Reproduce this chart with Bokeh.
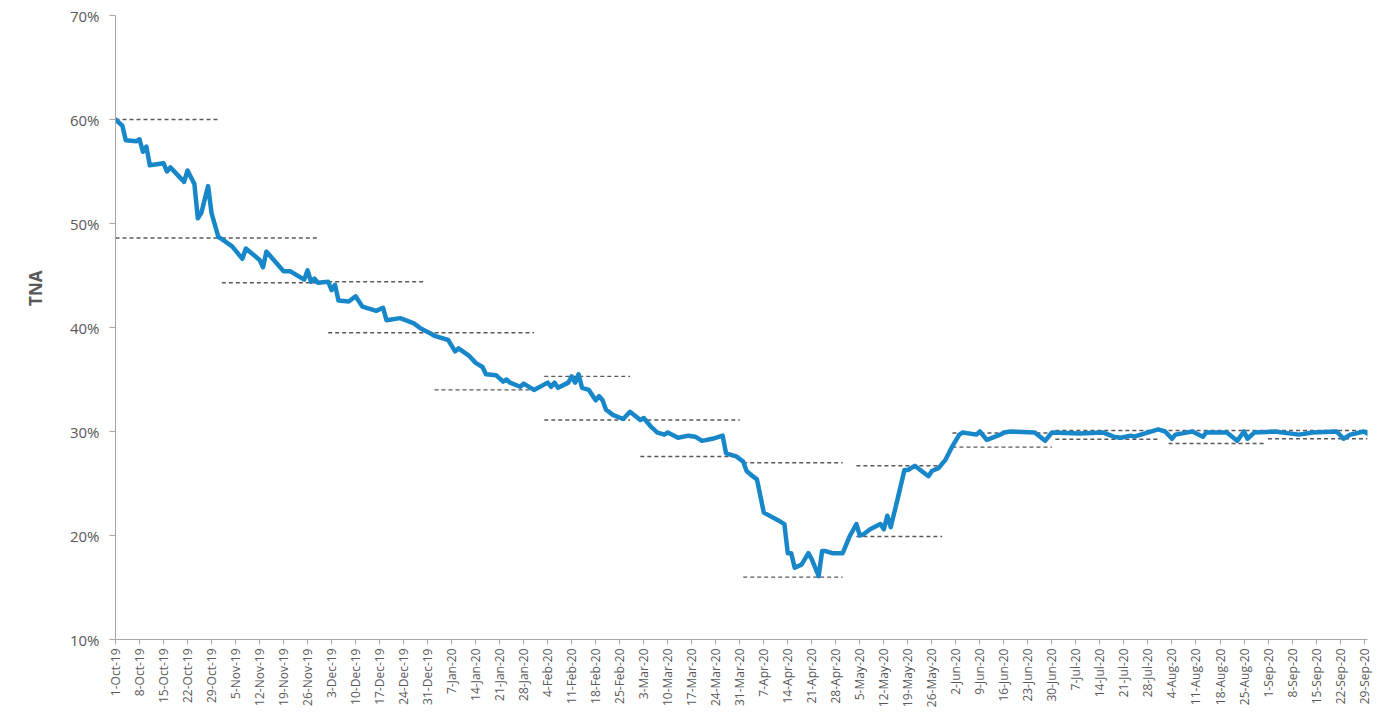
import math
import pandas as pd
from bokeh.plotting import figure
from bokeh.models import Range1d, FixedTicker, PrintfTickFormatter, Title
from bokeh.embed import file_html
from bokeh.resources import INLINE

# ---------------- data ----------------
dates = [
    "2019-10-01", "2019-10-03", "2019-10-04", "2019-10-07", "2019-10-08", "2019-10-09", "2019-10-10",
    "2019-10-11", "2019-10-15", "2019-10-16", "2019-10-17", "2019-10-21", "2019-10-22", "2019-10-24",
    "2019-10-25", "2019-10-26", "2019-10-28", "2019-10-29", "2019-10-31",
    "2019-11-01", "2019-11-04", "2019-11-07", "2019-11-08", "2019-11-12", "2019-11-13", "2019-11-14",
    "2019-11-19", "2019-11-21", "2019-11-25", "2019-11-26", "2019-11-27", "2019-11-28", "2019-11-29",
    "2019-12-02", "2019-12-03", "2019-12-04", "2019-12-05", "2019-12-08", "2019-12-10", "2019-12-12",
    "2019-12-16", "2019-12-18", "2019-12-19", "2019-12-23", "2019-12-27", "2019-12-29", "2020-01-01",
    "2020-01-02", "2020-01-06", "2020-01-08", "2020-01-09", "2020-01-12", "2020-01-14", "2020-01-16",
    "2020-01-17", "2020-01-20", "2020-01-22", "2020-01-23", "2020-01-24", "2020-01-27", "2020-01-28",
    "2020-01-31",
    "2020-02-04", "2020-02-05", "2020-02-06", "2020-02-07", "2020-02-10", "2020-02-11", "2020-02-12",
    "2020-02-13", "2020-02-14", "2020-02-16", "2020-02-18", "2020-02-19", "2020-02-20", "2020-02-21",
    "2020-02-23", "2020-02-26", "2020-02-28",
    "2020-03-02", "2020-03-03", "2020-03-05", "2020-03-07", "2020-03-09", "2020-03-10", "2020-03-13",
    "2020-03-16", "2020-03-18", "2020-03-20", "2020-03-23", "2020-03-26", "2020-03-27", "2020-03-30",
    "2020-04-01", "2020-04-02", "2020-04-03", "2020-04-05", "2020-04-07", "2020-04-11", "2020-04-13",
    "2020-04-14", "2020-04-15", "2020-04-16", "2020-04-18", "2020-04-20", "2020-04-21", "2020-04-23",
    "2020-04-24", "2020-04-25", "2020-04-27", "2020-04-30",
    "2020-05-02", "2020-05-04", "2020-05-05", "2020-05-06", "2020-05-08", "2020-05-11", "2020-05-12",
    "2020-05-13", "2020-05-14", "2020-05-16", "2020-05-18", "2020-05-19", "2020-05-21", "2020-05-23",
    "2020-05-25", "2020-05-26", "2020-05-28", "2020-05-30",
    "2020-06-01", "2020-06-03", "2020-06-04", "2020-06-08", "2020-06-09", "2020-06-11", "2020-06-15",
    "2020-06-16", "2020-06-18", "2020-06-25", "2020-06-28", "2020-06-30",
    "2020-07-08", "2020-07-15", "2020-07-18", "2020-07-20", "2020-07-23", "2020-07-24", "2020-07-31",
    "2020-08-02", "2020-08-04", "2020-08-05", "2020-08-10", "2020-08-13", "2020-08-14", "2020-08-20",
    "2020-08-23", "2020-08-25", "2020-08-26", "2020-08-28",
    "2020-09-03", "2020-09-10", "2020-09-14", "2020-09-21", "2020-09-23", "2020-09-25", "2020-09-29",
    "2020-09-30",
]
tna = [
    60.0, 59.4, 58.0, 57.9, 58.1, 56.9, 57.4,
    55.6, 55.8, 55.0, 55.4, 54.0, 55.1, 53.8,
    50.5, 51.0, 53.6, 51.0, 48.7,
    48.5, 47.8, 46.6, 47.6, 46.5, 45.8, 47.3,
    45.4, 45.4, 44.6, 45.5, 44.4, 44.7, 44.3,
    44.4, 43.6, 44.1, 42.6, 42.5, 43.0, 42.0,
    41.6, 41.9, 40.7, 40.9, 40.4, 39.9, 39.4,
    39.2, 38.8, 37.7, 38.0, 37.3, 36.6, 36.2,
    35.5, 35.4, 34.8, 35.0, 34.7, 34.3, 34.6,
    34.0,
    34.7, 34.3, 34.7, 34.2, 34.7, 35.3, 34.7,
    35.5, 34.2, 34.0, 33.0, 33.4, 33.0, 32.1,
    31.6, 31.2, 31.9,
    31.1, 31.3, 30.5, 29.9, 29.7, 29.9, 29.4,
    29.6, 29.5, 29.1, 29.3, 29.6, 27.9, 27.6,
    27.1, 26.2, 25.9, 25.4, 22.2, 21.5, 21.1,
    18.3, 18.3, 16.9, 17.2, 18.3, 17.7, 16.1,
    18.5, 18.5, 18.3, 18.3,
    19.9, 21.1, 20.0, 20.1, 20.6, 21.1, 20.6,
    21.9, 20.8, 23.5, 26.3, 26.3, 26.7, 26.2,
    25.7, 26.2, 26.5, 27.3,
    28.6, 29.7, 29.9, 29.7, 30.0, 29.2, 29.7,
    29.9, 30.0, 29.9, 29.1, 29.9,
    29.8, 29.9, 29.5, 29.4, 29.6, 29.5, 30.2,
    30.0, 29.3, 29.7, 30.0, 29.5, 29.9, 29.9,
    29.1, 30.0, 29.3, 29.9,
    30.0, 29.7, 29.9, 30.0, 29.3, 29.7, 30.0,
    29.8,
]

month_start = ["2019-10-01", "2019-11-01", "2019-12-02", "2020-01-02", "2020-02-03", "2020-03-02",
               "2020-04-01", "2020-05-04", "2020-06-01", "2020-07-01", "2020-08-03", "2020-09-01"]
month_end = ["2019-10-31", "2019-11-29", "2019-12-30", "2020-01-31", "2020-02-28", "2020-03-31",
             "2020-04-30", "2020-05-29", "2020-06-30", "2020-07-31", "2020-08-31", "2020-09-30"]
month_max = [60.0, 48.6, 44.4, 39.5, 35.3, 31.1, 27.0, 26.7, 29.85, 30.1, 30.1, 30.1]
month_min = [48.6, 44.3, 39.5, 34.0, 31.1, 27.6, 16.0, 19.9, 28.5, 29.25, 28.85, 29.3]

tick_labels = [
    "1-Oct-19", "8-Oct-19", "15-Oct-19", "22-Oct-19", "29-Oct-19", "5-Nov-19", "12-Nov-19",
    "19-Nov-19", "26-Nov-19", "3-Dec-19", "10-Dec-19", "17-Dec-19", "24-Dec-19", "31-Dec-19",
    "7-Jan-20", "14-Jan-20", "21-Jan-20", "28-Jan-20", "4-Feb-20", "11-Feb-20", "18-Feb-20",
    "25-Feb-20", "3-Mar-20", "10-Mar-20", "17-Mar-20", "24-Mar-20", "31-Mar-20", "7-Apr-20",
    "14-Apr-20", "21-Apr-20", "28-Apr-20", "5-May-20", "12-May-20", "19-May-20", "26-May-20",
    "2-Jun-20", "9-Jun-20", "16-Jun-20", "23-Jun-20", "30-Jun-20", "7-Jul-20", "14-Jul-20",
    "21-Jul-20", "28-Jul-20", "4-Aug-20", "11-Aug-20", "18-Aug-20", "25-Aug-20", "1-Sep-20",
    "8-Sep-20", "15-Sep-20", "22-Sep-20", "29-Sep-20",
]

y_ticks = [10, 20, 30, 40, 50, 60, 70]

# ---------------- helpers ----------------
origin = pd.Timestamp("2019-10-01")


def day_of(s):
    return (pd.Timestamp(s) - origin).days


xs = [day_of(d) for d in dates]
tick_pos = [7 * i for i in range(len(tick_labels))]

# ---------------- figure ----------------
W, H = 1380, 710
p = figure(width=W, height=H, output_backend="svg", toolbar_location=None,
           x_range=Range1d(0, 365), y_range=Range1d(10, 70),
           min_border_left=115, min_border_right=13, min_border_top=15, min_border_bottom=70)
p.outline_line_color = None
p.background_fill_color = "white"
p.border_fill_color = "white"
p.xgrid.visible = False
p.ygrid.visible = False

dash_color = "#595959"
xs0 = [day_of(s) for s in month_start]
xs1 = [day_of(s) for s in month_end]
p.segment(x0=xs0, x1=xs1, y0=month_max, y1=month_max, line_color=dash_color,
          line_width=1.4, line_dash="4 3")
p.segment(x0=xs0, x1=xs1, y0=month_min, y1=month_min, line_color=dash_color,
          line_width=1.4, line_dash="4 3")

p.line(xs, tna, line_color="#1787c9", line_width=4.5, line_join="round", line_cap="round")

axis_color = "#a6a6a6"
label_color = "#595959"

xa = p.xaxis[0]
xa.ticker = FixedTicker(ticks=tick_pos)
xa.major_label_overrides = {pos: lab for pos, lab in zip(tick_pos, tick_labels)}
xa.major_label_orientation = math.pi / 2
xa.major_label_text_font = "Open Sans"
xa.major_label_text_font_size = "12px"
xa.major_label_text_color = label_color
xa.axis_line_color = axis_color
xa.major_tick_line_color = axis_color
xa.major_tick_out = 5
xa.major_tick_in = 0
xa.minor_tick_line_color = None
xa.major_label_standoff = 4

ya = p.yaxis[0]
ya.ticker = FixedTicker(ticks=y_ticks)
ya.formatter = PrintfTickFormatter(format="%d%%")
ya.major_label_text_font = "Open Sans"
ya.major_label_text_font_size = "15px"
ya.major_label_text_color = label_color
ya.axis_line_color = axis_color
ya.major_tick_line_color = axis_color
ya.major_tick_out = 6
ya.major_tick_in = 0
ya.minor_tick_line_color = None
ya.major_label_standoff = 10

p.add_layout(Title(text="TNA", align="right", offset=255, standoff=40,
                   text_font="Open Sans", text_font_style="bold", text_font_size="17px",
                   text_color=label_color), "left")

open("out.html", "w").write(file_html(p, INLINE))
